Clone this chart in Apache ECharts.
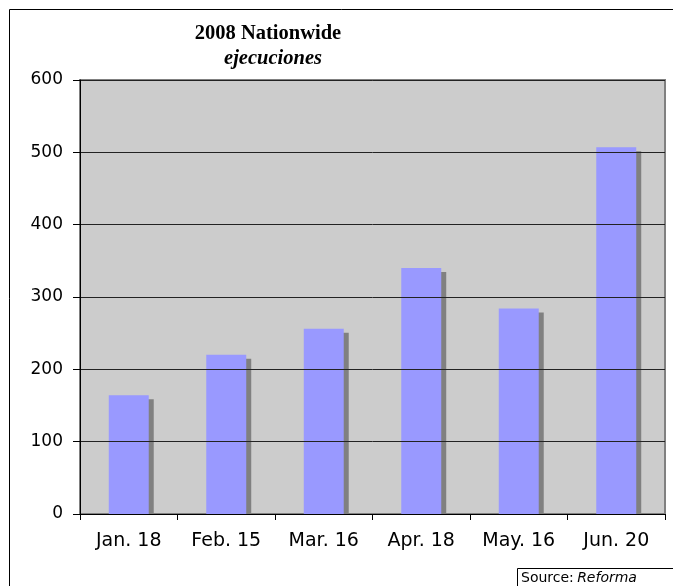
<!DOCTYPE html>
<html>
<head>
<meta charset="utf-8">
<script src="https://cdn.jsdelivr.net/npm/echarts@6/dist/echarts.min.js"></script>
<style>html,body{margin:0;padding:0;background:#fff}#c{width:673px;height:586px}</style>
</head>
<body>
<div id="c"></div>
<script>
const categories = ['Jan. 18', 'Feb. 15', 'Mar. 16', 'Apr. 18', 'May. 16', 'Jun. 20'];
const values = [164, 220, 256, 340, 284, 507];
const yMin = 0, yMax = 600, yStep = 100;
const titleMain = '2008 Nationwide';
const titleSub = 'ejecuciones';
const sourceLabel = 'Source:';
const sourceName = 'Reforma';

const BAR_RATIO = 0.41;
const chart = echarts.init(document.getElementById('c'));
chart.setOption({
  animation: false,
  graphic: [
    { type: 'rect', z: -10, silent: true, shape: { x: 9.5, y: 9.5, width: 720, height: 720 },
      style: { fill: '#fff', stroke: '#000', lineWidth: 1 } },
    { type: 'text', x: 268, y: 33.5, style: { text: titleMain, font: 'bold 20.5px "Liberation Serif"', fill: '#000', textAlign: 'center', textVerticalAlign: 'middle' } },
    { type: 'text', x: 273, y: 59, style: { text: titleSub, font: 'italic bold 20.5px "Liberation Serif"', fill: '#000', textAlign: 'center', textVerticalAlign: 'middle' } },
    { type: 'rect', shape: { x: 517.5, y: 568.5, width: 200, height: 40 }, style: { fill: '#fff', stroke: '#000', lineWidth: 1 } },
    { type: 'text', x: 521, y: 578, style: { text: '{a|' + sourceLabel + '} {b|' + sourceName + '}', textVerticalAlign: 'middle',
      rich: { a: { fontFamily: 'DejaVu Sans', fontSize: 14, fill: '#000' }, b: { fontFamily: 'DejaVu Sans', fontStyle: 'italic', fontSize: 14, fill: '#000' } } } }
  ],
  grid: { left: 80, right: 8, top: 80, bottom: 72, show: true, backgroundColor: '#cccccc', borderColor: '#808080', borderWidth: 2 },
  xAxis: {
    type: 'category', data: categories, boundaryGap: true, z: 5,
    axisLine: { lineStyle: { color: '#000', width: 1 } },
    axisTick: { show: true, length: 6, alignWithLabel: false, lineStyle: { color: '#000' } },
    axisLabel: { margin: 18, fontFamily: 'DejaVu Sans', fontSize: 19, color: '#000' }
  },
  yAxis: {
    type: 'value', min: yMin, max: yMax, interval: yStep, z: 5,
    axisLine: { show: true, lineStyle: { color: '#000', width: 1 } },
    axisTick: { show: true, length: 7, lineStyle: { color: '#000' } },
    axisLabel: { margin: 17, fontFamily: 'DejaVu Sans', fontSize: 17, color: '#000' },
    splitLine: { show: true, lineStyle: { color: '#222', width: 1 } }
  },
  series: [
    {
      type: 'custom', z: 1,
      data: values.map((v, i) => [i, v]),
      renderItem: function (params, api) {
        const top = api.coord([api.value(0), api.value(1)]);
        const base = api.coord([api.value(0), 0]);
        const band = api.size([1, 0])[0];
        const bw = band * BAR_RATIO;
        return { type: 'rect', shape: { x: top[0] - bw / 2 + 5, y: top[1] + 4, width: bw, height: base[1] - top[1] - 4 },
          style: { fill: '#808080' } };
      }
    },
    {
      type: 'bar', z: 2, data: values, barWidth: (BAR_RATIO * 100) + '%',
      itemStyle: { color: '#9999ff' }
    }
  ]
});
</script>
</body>
</html>
